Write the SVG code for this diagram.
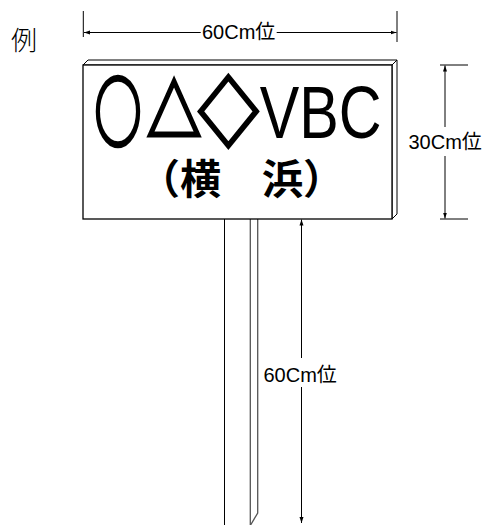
<svg xmlns="http://www.w3.org/2000/svg" width="482" height="525" viewBox="0 0 482 525">
<style>
.ln{stroke:#000;stroke-width:1;fill:none}
.post2{stroke:#555;stroke-width:1.3;fill:none}
.lbl{font-family:"Liberation Sans","Noto Sans CJK JP",sans-serif;font-size:20px;fill:#000}
.cjk{font-family:"Noto Sans CJK JP",sans-serif;fill:#000}
.shp{font-family:"Noto Sans CJK JP",sans-serif;font-weight:bold;fill:#000;stroke:#000;stroke-linejoin:miter}
.big{font-family:"Liberation Sans",Arial,sans-serif;font-size:74px;fill:#000}
</style>
<defs>
<marker id="ar" viewBox="0 0 6 6" refX="6" refY="3" markerWidth="6" markerHeight="6" markerUnits="userSpaceOnUse" orient="auto-start-reverse">
<path d="M0,1 L6,3 L0,5 Z" fill="#000"/>
</marker>
</defs>
<rect width="482" height="525" fill="#fff"/>
<text class="cjk" x="11" y="50" font-size="26" font-weight="300">例</text>
<g id="post">
<line class="ln" x1="224.5" y1="219" x2="224.5" y2="525"/>
<line class="post2" x1="250.3" y1="219" x2="250.3" y2="525"/>
<polyline class="post2" points="257.7,219 257.7,513 250.6,525"/>
</g>
<g id="sign">
<polygon points="83,65 88,60 397,60 392,65" fill="#fff" stroke="#000" stroke-width="1"/>
<polygon points="392,65 397,60 397,214 392,219" fill="#fff" stroke="#000" stroke-width="1"/>
<rect x="83" y="65" width="309" height="154" fill="#fff" stroke="#000" stroke-width="1.3"/>
<text class="shp" transform="translate(118,141) scale(0.61,1)" font-size="77" stroke-width="3.6" text-anchor="middle">○</text>
<text class="shp" transform="translate(174,137) scale(0.78,1)" font-size="70" stroke-width="3" text-anchor="middle">△</text>
<text class="shp" transform="translate(228.3,140) scale(0.81,1)" font-size="75" stroke-width="3" text-anchor="middle">◇</text>
<text class="big" transform="translate(259.7,138) scale(0.8,1)">VBC</text>
<text class="cjk" x="139" y="194" font-size="41" font-weight="bold">（横　浜）</text>
</g>
<g id="connectors">
<line class="ln" x1="83.3" y1="11" x2="83.3" y2="37"/>
<line class="ln" x1="397" y1="11" x2="397" y2="42"/>
<line class="ln" x1="84" y1="32.5" x2="200.7" y2="32.5" marker-start="url(#ar)"/>
<line class="ln" x1="276.7" y1="32.5" x2="396.5" y2="32.5" marker-end="url(#ar)"/>
<line class="ln" x1="440" y1="65" x2="468" y2="65"/>
<line class="ln" x1="440" y1="219" x2="468" y2="219"/>
<line class="ln" x1="445" y1="65.5" x2="445" y2="127" marker-start="url(#ar)"/>
<line class="ln" x1="445" y1="156" x2="445" y2="218.5" marker-end="url(#ar)"/>
<line class="ln" x1="301.5" y1="219.5" x2="301.5" y2="358" marker-start="url(#ar)"/>
<line class="ln" x1="301.5" y1="387" x2="301.5" y2="523" marker-end="url(#ar)"/>
</g>
<g id="labels">
<text class="lbl" x="202" y="38.5">60Cm位</text>
<text class="lbl" x="408.5" y="149">30Cm位</text>
<text class="lbl" x="263.5" y="381.5">60Cm位</text>
</g>
</svg>
